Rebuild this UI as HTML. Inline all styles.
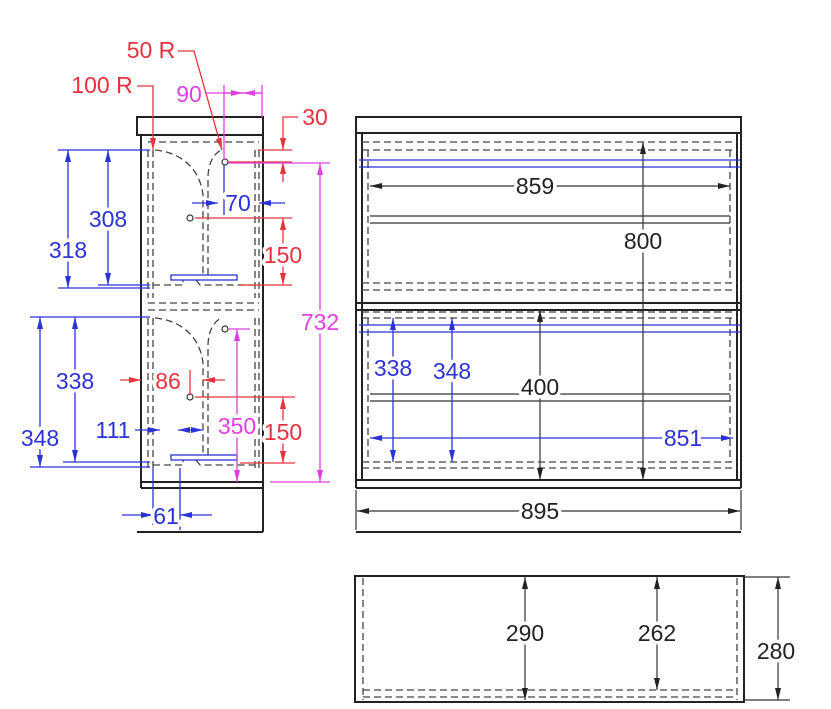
<!DOCTYPE html>
<html><head><meta charset="utf-8"><style>
html,body{margin:0;padding:0;background:#fff;width:831px;height:709px;overflow:hidden}
svg{display:block}
text{font-family:"Liberation Sans",Arial,sans-serif;font-size:23px;text-anchor:middle;stroke:#fff;stroke-width:7px;paint-order:stroke;stroke-linejoin:round}
.k{stroke:#222;fill:none;stroke-width:2}
.t{stroke:#333;fill:none;stroke-width:1.2}
.d{stroke:#444;fill:none;stroke-width:1.3;stroke-dasharray:7 4}
.b{stroke:#2b33d6;fill:none;stroke-width:1.3}
.r{stroke:#e6323c;fill:none;stroke-width:1.3}
.m{stroke:#e040e0;fill:none;stroke-width:1.3}
</style></head><body>
<svg width="831" height="709" viewBox="0 0 831 709" xmlns="http://www.w3.org/2000/svg">
<defs>
<marker id="ak" viewBox="0 0 12 6" refX="12" refY="3" markerWidth="12" markerHeight="6" orient="auto-start-reverse" markerUnits="userSpaceOnUse"><path d="M0,0L12,3L0,6z" fill="#222"/></marker>
<marker id="ab" viewBox="0 0 12 6" refX="12" refY="3" markerWidth="12" markerHeight="6" orient="auto-start-reverse" markerUnits="userSpaceOnUse"><path d="M0,0L12,3L0,6z" fill="#2b33d6"/></marker>
<marker id="ar" viewBox="0 0 12 6" refX="12" refY="3" markerWidth="12" markerHeight="6" orient="auto-start-reverse" markerUnits="userSpaceOnUse"><path d="M0,0L12,3L0,6z" fill="#e6323c"/></marker>
<marker id="am" viewBox="0 0 12 6" refX="12" refY="3" markerWidth="12" markerHeight="6" orient="auto-start-reverse" markerUnits="userSpaceOnUse"><path d="M0,0L12,3L0,6z" fill="#e040e0"/></marker>
</defs>

<!-- LEFT SIDE VIEW -->
<rect x="137" y="117" width="126" height="18" class="k"/>
<path d="M141,135V488M263,135V532M141,482H263M141,488H263M137,532H263" class="k"/>
<path d="M148,142H259M148,303H259M148,310H259" class="d"/>
<path d="M148,150V298M153,150V298M255,150V298M259,150V298M148,318V470M153,318V470M255,318V470M259,318V470" class="d"/>
<path d="M155,150C180,152 200,168 203,195V275M208,275V178C208,162 215,152 222,150" class="d"/>
<path d="M155,318C180,320 200,336 203,363V455M208,455V346C208,330 215,320 222,318" class="d"/>
<path d="M153,285H183V280M196,280L200,285H255M153,465H183V460M196,460L200,465H255" class="d"/>
<rect x="171" y="275" width="66" height="5" class="b"/>
<rect x="171" y="455" width="66" height="5" class="b"/>
<circle cx="225" cy="162" r="3" class="t"/><circle cx="190" cy="218" r="3" class="t"/>
<circle cx="225" cy="329" r="3" class="t"/><circle cx="190" cy="397" r="3" class="t"/>

<!-- blue dims -->
<path d="M58,150H150M58,288H150M98,285H150" class="b"/>
<path d="M68,150V288" class="b" marker-start="url(#ab)" marker-end="url(#ab)"/>
<path d="M108,150V285" class="b" marker-start="url(#ab)" marker-end="url(#ab)"/>
<text x="68" y="258" fill="#2b33d6">318</text>
<text x="108" y="227" fill="#2b33d6">308</text>
<path d="M30,317H150M63,462H150M30,467H150" class="b"/>
<path d="M75,317V462" class="b" marker-start="url(#ab)" marker-end="url(#ab)"/>
<path d="M40,317V467" class="b" marker-start="url(#ab)" marker-end="url(#ab)"/>
<text x="75" y="389" fill="#2b33d6">338</text>
<text x="40" y="446" fill="#2b33d6">348</text>
<path d="M135,430H160" class="b" marker-end="url(#ab)"/><path d="M178,430H203" class="b" marker-start="url(#ab)" marker-end="url(#ab)"/>
<text x="113" y="438" fill="#2b33d6">111</text>
<path d="M153,468V525M180,468V530" class="b"/>
<path d="M122,515H153" class="b" marker-end="url(#ab)"/><path d="M212,515H180" class="b" marker-end="url(#ab)"/>
<text x="166" y="524" fill="#2b33d6">61</text>
<path d="M192,203H218" class="b" marker-end="url(#ab)"/><path d="M285,203H259" class="b" marker-end="url(#ab)"/>
<path d="M224,165V215" class="b"/>
<text x="238" y="211" fill="#2b33d6">70</text>

<!-- red dims -->
<text x="102" y="93" fill="#e6323c">100 R</text>
<path d="M137,86H153V150" class="r" marker-end="url(#ar)"/>
<text x="151" y="58" fill="#e6323c">50 R</text>
<path d="M178,51H194L222,150" class="r" marker-end="url(#ar)"/>
<text x="315" y="125" fill="#e6323c">30</text>
<path d="M298,117H283V150" class="r" marker-end="url(#ar)"/>
<path d="M258,150H292M228,162H292M195,218H292M240,285H292" class="r"/>
<path d="M283,182V162" class="r" marker-end="url(#ar)"/>
<path d="M283,218V285" class="r" marker-start="url(#ar)" marker-end="url(#ar)"/>
<text x="283" y="263" fill="#e6323c">150</text>
<path d="M195,397H295M240,463H295" class="r"/>
<path d="M283,397V463" class="r" marker-start="url(#ar)" marker-end="url(#ar)"/>
<text x="283" y="440" fill="#e6323c">150</text>
<path d="M120,380H141" class="r" marker-end="url(#ar)"/><path d="M225,380H203" class="r" marker-end="url(#ar)"/>
<path d="M190,370V395" class="r"/>
<text x="168" y="389" fill="#e6323c">86</text>

<!-- magenta dims -->
<text x="189" y="102" fill="#e040e0">90</text>
<path d="M224,85V160M262,85V117" class="m"/>
<path d="M205,93H262" class="m"/>
<path d="M224,93H243" class="m" marker-end="url(#am)"/><path d="M262,93H243" class="m" marker-end="url(#am)"/>
<path d="M228,163H330M270,482H330" class="m"/>
<path d="M320,163V482" class="m" marker-start="url(#am)" marker-end="url(#am)"/>
<text x="320" y="330" fill="#e040e0">732</text>
<path d="M228,329H250" class="m"/>
<path d="M237,329V482" class="m" marker-start="url(#am)" marker-end="url(#am)"/>
<text x="237" y="434" fill="#e040e0">350</text>

<!-- FRONT VIEW -->
<rect x="356" y="117" width="385" height="16" class="k"/>
<path d="M356,133V488M741,133V488M362,133V480M737,133V480M356,480H741M356,488H741M356,303H741M356,310H741" class="k"/>
<path d="M362,142H737M362,150H737M362,283H737M362,290H737M362,312H737M362,318H737M362,462H737M362,468H737" class="d"/>
<path d="M368,150V283M730,150V283M368,318V462M730,318V462" class="d"/>
<path d="M359,160H740M359,167H740M359,325H740M359,332H740" class="b"/>
<path d="M370,216H730M370,223H730M370,394H730M370,401H730" class="t"/>
<path d="M370,186H730" class="t" marker-start="url(#ak)" marker-end="url(#ak)"/>
<text x="535" y="194" fill="#222">859</text>
<path d="M643,142V480" class="t" marker-start="url(#ak)" marker-end="url(#ak)"/>
<text x="643" y="249" fill="#222">800</text>
<path d="M540,310V480" class="t" marker-start="url(#ak)" marker-end="url(#ak)"/>
<text x="540" y="395" fill="#222">400</text>
<path d="M393,318V462" class="b" marker-start="url(#ab)" marker-end="url(#ab)"/>
<path d="M452,318V462" class="b" marker-start="url(#ab)" marker-end="url(#ab)"/>
<text x="393" y="376" fill="#2b33d6">338</text>
<text x="452" y="379" fill="#2b33d6">348</text>
<path d="M370,438H733" class="b" marker-start="url(#ab)" marker-end="url(#ab)"/>
<text x="683" y="446" fill="#2b33d6">851</text>
<path d="M356,490V530M741,490V530" class="t"/>
<path d="M357,511H740" class="t" marker-start="url(#ak)" marker-end="url(#ak)"/>
<text x="540" y="519" fill="#222">895</text>
<path d="M356,532H741" class="k"/>

<!-- BOTTOM VIEW -->
<rect x="355" y="576" width="389" height="126" class="k"/>
<path d="M363,578V700M737,578V700M363,690H737M363,697H737" class="d"/>
<path d="M525,577V700" class="t" marker-start="url(#ak)" marker-end="url(#ak)"/>
<text x="525" y="641" fill="#222">290</text>
<path d="M657,577V690" class="t" marker-start="url(#ak)" marker-end="url(#ak)"/>
<text x="657" y="641" fill="#222">262</text>
<path d="M744,577H790M744,700H790" class="t"/>
<path d="M778,577V700" class="t" marker-start="url(#ak)" marker-end="url(#ak)"/>
<text x="776" y="659" fill="#222">280</text>
</svg>
</body></html>
